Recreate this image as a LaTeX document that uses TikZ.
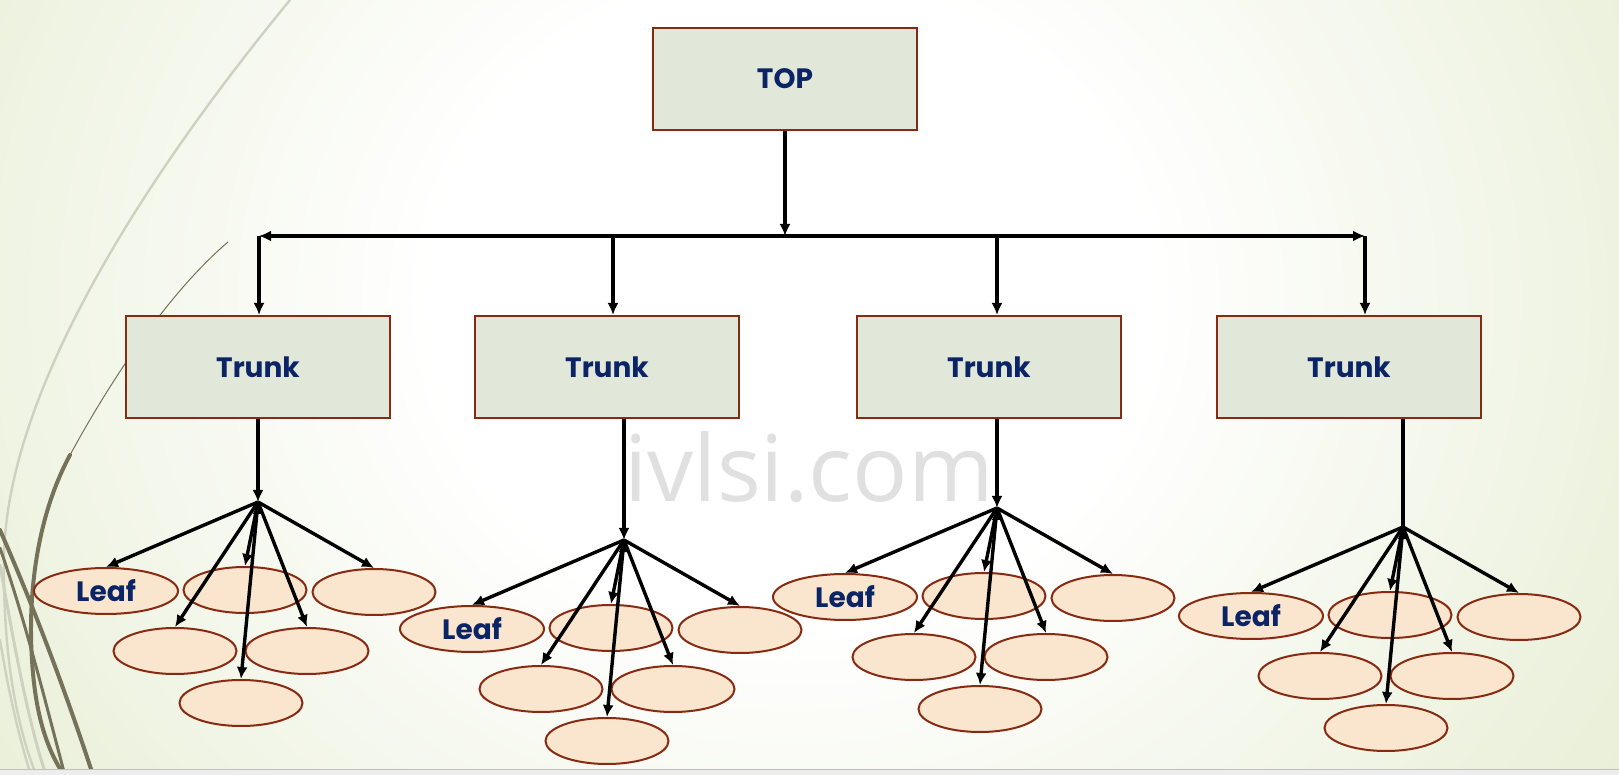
\documentclass[tikz,border=0pt]{standalone}
\usepackage{fontspec}
\setmainfont{Poppins}
\newfontfamily\markfont{Open Sans}
\usetikzlibrary{arrows.meta,positioning,shapes.geometric,calc}
\definecolor{boxfill}{HTML}{E2E8D9}
\definecolor{boxline}{HTML}{862A12}
\definecolor{leaffill}{HTML}{FAE5CF}
\definecolor{labelblue}{HTML}{0B2466}
\definecolor{bgedge}{HTML}{DFE8C6}
\definecolor{swirldark}{HTML}{767259}
\definecolor{swirllight}{HTML}{CFD1C0}
\colorlet{bgmid}{bgedge!50!white}
\newcommand{\lblfont}{\bfseries\fontsize{14}{17}\selectfont}
\pgfdeclareradialshading{slidebg}{\pgfpoint{0bp}{0bp}}{color(0bp)=(white); color(9bp)=(white); color(20bp)=(bgmid); color(32bp)=(bgedge); color(50bp)=(bgedge)}

\begin{document}
\begin{tikzpicture}[->,>={Latex[length=6pt,width=5.5pt]},line width=1.7pt,
      x=0.5pt, y=-0.5pt,
      box/.style={draw=boxline, fill=boxfill, line width=1pt, minimum width=132pt,
        minimum height=51pt, inner sep=0pt, text=labelblue, font=\lblfont},
      leaf/.style={ellipse, draw=boxline, fill=leaffill, line width=1pt, minimum width=61.5pt,
        minimum height=23pt, inner sep=0pt, text=labelblue, font=\lblfont},
      bigleaf/.style={leaf, minimum width=72pt},
      swirl/.style={-, draw=swirldark, line cap=round}]
     % slide background
     \useasboundingbox (0,0) rectangle (1619,775);
     \begin{scope}
       \clip (0,0) rectangle (1619,775);
       \fill[bgedge] (0,0) rectangle (1619,775);
       \shade[shading=slidebg] (790,300) ellipse [x radius=1000, y radius=900];
       \draw[swirl, draw=swirllight, line width=1.2pt] (290,0) .. controls (150,170) and (5,390) .. (4,560) .. controls (3,650) and (15,720) .. (35,772);
       \draw[swirl, line width=0.5pt] (228,242) .. controls (160,300) and (100,400) .. (70,455);
       \draw[swirl, line width=2pt] (70,455) .. controls (35,520) and (28,600) .. (32,660) .. controls (35,710) and (45,745) .. (62,772);
       \draw[swirl, line width=2pt] (0,530) .. controls (35,610) and (65,690) .. (92,772);
       \draw[swirl, line width=1.5pt] (0,548) .. controls (25,620) and (45,700) .. (64,772);
       \draw[swirl, draw=swirllight, line width=1.5pt] (0,565) .. controls (15,650) and (28,720) .. (45,772);
       \draw[swirl, draw=swirllight, line width=1.2pt] (0,640) .. controls (10,700) and (20,740) .. (30,772);
       \fill[black!7] (0,769) rectangle (1619,775);
       \draw[-, black!25, line width=0.5pt] (0,769) -- (1619,769);
     \end{scope}
     \node[text=black!12, font=\markfont\fontsize{46}{46}\selectfont, anchor=base, inner sep=0pt] (mark) at (809,502) {ivlsi.com};

     \node[box] (top) at (785,79) {TOP};
     \node[box] (trunk1) at (258,367) {Trunk};
     \node[box] (trunk2) at (607,367) {Trunk};
     \node[box] (trunk3) at (989,367) {Trunk};
     \node[box] (trunk4) at (1349,367) {Trunk};

     \coordinate (bus) at (785,236);
     \coordinate (busL) at (259,236);
     \coordinate (busR) at (1365,236);
     \coordinate (drop2) at (613,236);
     \coordinate (drop3) at (997,236);
     \coordinate (hub1) at (258,502);
     \coordinate (hub2) at (624,540);
     \coordinate (hub3) at (997,508);
     \coordinate (hub4) at (1403,527);

     \node[bigleaf] (l1a) at (106,591) {Leaf};
     \node[leaf] (l1b) at (245,590) {};
     \node[leaf] (l1c) at (374,592) {};
     \node[leaf] (l1d) at (175,651) {};
     \node[leaf] (l1e) at (307,651) {};
     \node[leaf] (l1f) at (241,703) {};

     \node[bigleaf] (l2a) at (472,629) {Leaf};
     \node[leaf] (l2b) at (611,628) {};
     \node[leaf] (l2c) at (740,630) {};
     \node[leaf] (l2d) at (541,689) {};
     \node[leaf] (l2e) at (673,689) {};
     \node[leaf] (l2f) at (607,741) {};

     \node[bigleaf] (l3a) at (845,597) {Leaf};
     \node[leaf] (l3b) at (984,596) {};
     \node[leaf] (l3c) at (1113,598) {};
     \node[leaf] (l3d) at (914,657) {};
     \node[leaf] (l3e) at (1046,657) {};
     \node[leaf] (l3f) at (980,709) {};

     \node[bigleaf] (l4a) at (1251,616) {Leaf};
     \node[leaf] (l4b) at (1390,615) {};
     \node[leaf] (l4c) at (1519,617) {};
     \node[leaf] (l4d) at (1320,676) {};
     \node[leaf] (l4e) at (1452,676) {};
     \node[leaf] (l4f) at (1386,728) {};

     \draw (top) -- (bus);
     \draw[<->] (busL) -- (busR);
     \draw (busL) -- (busL |- trunk1.north);
     \draw (drop2) -- (drop2 |- trunk2.north);
     \draw (drop3) -- (drop3 |- trunk3.north);
     \draw (busR) -- (busR |- trunk4.north);

     \draw (hub1 |- trunk1.south) -- (hub1);
     \draw (hub2 |- trunk2.south) -- (hub2);
     \draw (hub3 |- trunk3.south) -- (hub3);
     \draw[-] (hub4 |- trunk4.south) -- (hub4);

     \draw (hub1) edge (l1a.north) edge (l1b.north) edge (l1c.north) edge (l1d.north) edge (l1e.north) edge (l1f.north);
     \draw (hub2) edge (l2a.north) edge (l2b.north) edge (l2c.north) edge (l2d.north) edge (l2e.north) edge (l2f.north);
     \draw (hub3) edge (l3a.north) edge (l3b.north) edge (l3c.north) edge (l3d.north) edge (l3e.north) edge (l3f.north);
     \draw (hub4) edge (l4a.north) edge (l4b.north) edge (l4c.north) edge (l4d.north) edge (l4e.north) edge (l4f.north);
\end{tikzpicture}
\end{document}
